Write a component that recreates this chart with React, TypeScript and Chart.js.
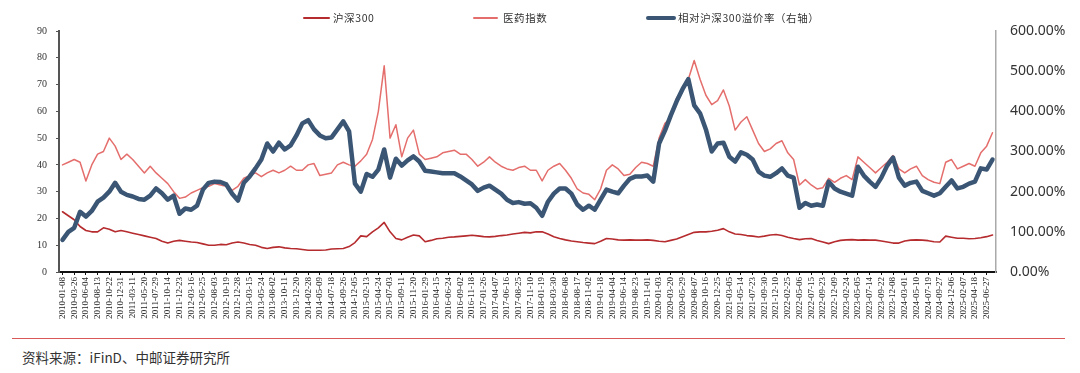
import React, { useEffect, useRef } from 'react';
import { Chart, registerables } from 'chart.js';

Chart.register(...registerables);

// Tick labels (every 10 trading weeks)
const tickLabels = [
  '2010-01-08', '2010-03-26', '2010-06-04', '2010-08-13', '2010-10-22', '2010-12-31',
  '2011-03-11', '2011-05-20', '2011-07-29', '2011-10-14', '2011-12-23',
  '2012-03-16', '2012-05-25', '2012-08-03', '2012-10-19', '2012-12-28',
  '2013-03-15', '2013-05-24', '2013-08-02', '2013-10-11', '2013-12-20',
  '2014-02-28', '2014-05-09', '2014-07-18', '2014-09-26', '2014-12-05',
  '2015-02-13', '2015-04-24', '2015-07-03', '2015-09-11', '2015-11-20',
  '2016-01-29', '2016-04-15', '2016-06-24', '2016-09-02', '2016-11-18',
  '2017-01-26', '2017-04-07', '2017-06-16', '2017-08-25', '2017-11-10',
  '2018-01-19', '2018-03-30', '2018-06-08', '2018-08-17', '2018-11-02',
  '2019-01-18', '2019-04-04', '2019-06-14', '2019-08-23', '2019-11-01',
  '2020-01-03', '2020-03-20', '2020-05-29', '2020-08-07', '2020-10-16', '2020-12-25',
  '2021-03-05', '2021-05-14', '2021-07-23', '2021-09-30', '2021-12-10',
  '2022-02-25', '2022-05-06', '2022-07-15', '2022-09-23', '2022-12-09',
  '2023-02-24', '2023-05-05', '2023-07-14', '2023-09-22', '2023-12-08',
  '2024-03-01', '2024-05-10', '2024-07-19', '2024-09-27', '2024-12-06',
  '2025-02-07', '2025-04-18', '2025-06-27',
];

// Series sampled every 5 trading weeks (left axis)
const hs300 = [
  22.5, 21, 19.5, 17, 15.5, 15, 15, 16.5, 16, 15,
  15.5, 15, 14.5, 14, 13.5, 13, 12.5, 11.5, 10.8, 11.5,
  11.8, 11.5, 11.2, 11, 10.5, 10, 10, 10.3, 10.2, 10.8,
  11.2, 10.8, 10.3, 10, 9.2, 8.8, 9.2, 9.4, 9, 8.8,
  8.7, 8.4, 8.1, 8.1, 8.1, 8.2, 8.6, 8.7, 8.8, 9.5,
  11, 13.5, 13.2, 15, 16.5, 18.5, 15, 12.5, 12, 13,
  13.8, 13.5, 11.3, 11.8, 12.4, 12.6, 13, 13.1, 13.3, 13.5,
  13.7, 13.5, 13.2, 13.1, 13.3, 13.6, 13.8, 14.2, 14.5, 14.8,
  14.6, 15, 15, 14.2, 13.2, 12.5, 12, 11.6, 11.3, 11,
  10.8, 10.6, 11.5, 12.5, 12.3, 12, 11.9, 12, 11.9, 11.9,
  12, 11.8, 11.5, 11.3, 11.8, 12.3, 13.2, 14, 14.8, 15,
  15, 15.2, 15.6, 16.2, 15, 14.2, 14, 13.6, 13.4, 13.1,
  13.4, 13.8, 14, 13.6, 13, 12.5, 12.1, 12.4, 12.5, 11.8,
  11.2, 10.6, 11.3, 11.8, 12, 12.1, 11.9, 12, 11.9, 11.9,
  11.6, 11.2, 10.8, 10.8, 11.6, 11.9, 12, 11.9, 11.7, 11.3,
  11.2, 13.4, 13, 12.6, 12.6, 12.4, 12.5, 12.8, 13.2, 13.8,
];

const pharma = [
  40, 41, 42, 41, 34, 40, 44, 45, 50, 47,
  42, 44, 42, 39.5, 37, 39.5, 37, 35, 33, 30,
  27.5, 28, 29.5, 30.5, 31.5, 32, 33, 32.5, 32, 30.5,
  32, 35, 36, 37, 35.6, 37, 38, 37, 38, 39.5,
  38, 38, 40, 40.5, 36, 36.5, 37, 40, 41, 40,
  39.5, 41.5, 44, 49.5, 60, 77, 50, 55, 43, 50,
  53, 44, 42, 42.5, 43, 44.5, 45, 45.5, 44, 44,
  42, 39.5, 41, 43, 41, 39.5, 38.5, 38, 39, 39.5,
  38, 38, 34, 38, 39.5, 40.5, 38, 35, 31, 29.5,
  29, 27, 31, 38, 40, 38.5, 36, 36.5, 39, 41,
  40.5, 39.5, 50, 55.5, 57.5, 65, 68, 72, 79, 72,
  66, 62.5, 64, 68, 62, 53, 56, 58, 53, 48,
  45, 46, 48, 49, 44.5, 42, 32.5, 34.5, 32.5, 31,
  31.5, 35, 33.5, 35, 36, 34.5, 43, 41, 39, 37,
  39, 41, 43.5, 38.5, 37, 38.5, 39.5, 36, 34.5, 33.5,
  33, 41, 42, 38.5, 39.5, 40.5, 39.5, 44.5, 47, 52,
];

// Right axis, percent
const premium = [
  80, 100, 110, 150, 138, 152, 175, 185, 200, 222,
  200, 192, 188, 182, 180, 190, 208, 196, 180, 190,
  145, 158, 155, 165, 205, 222, 225, 224, 218, 195,
  178, 222, 238, 258, 280, 320, 300, 322, 305, 315,
  340, 370, 378, 355, 340, 333, 335, 355, 375, 350,
  220, 200, 244, 237, 255, 305, 235, 282, 265, 278,
  288, 275, 252, 250, 248, 246, 246, 246, 238, 228,
  218, 202, 210, 215, 205, 195, 180, 172, 174, 170,
  171, 160, 140, 175, 195, 208, 208, 195, 168, 155,
  165, 155, 180, 205, 200, 196, 215, 232, 238, 238,
  240, 225, 320, 352, 390, 425, 455, 480, 415, 395,
  355, 300, 320, 322, 287, 275, 298, 292, 280, 250,
  240, 237, 246, 258, 240, 235, 160, 172, 165, 168,
  165, 225, 208, 200, 195, 190, 262, 240, 225, 212,
  235, 265, 285, 235, 215, 222, 225, 202, 196, 190,
  196, 212, 228, 208, 212, 220, 225, 258, 255, 280,
];

const WEEKS_PER_POINT = 5;
const WEEKS_PER_LABEL = 10;

const COLORS = {
  hs300: '#B52B2E',
  pharma: '#E46E6C',
  premium: '#3A5674',
};

const legendItems = [
  { text: '沪深300', color: COLORS.hs300, left: 303, width: 27, thick: 2, textLeft: 333 },
  { text: '医药指数', color: COLORS.pharma, left: 473, width: 25, thick: 2, textLeft: 503 },
  { text: '相对沪深300溢价率（右轴）', color: COLORS.premium, left: 646, width: 30, thick: 4, textLeft: 678 },
];

export default function App() {
  const ref = useRef<HTMLCanvasElement>(null);

  useEffect(() => {
    const toPts = (arr: number[]) => arr.map((y, i) => ({ x: i * WEEKS_PER_POINT, y }));
    const chart = new Chart(ref.current as HTMLCanvasElement, {
      type: 'line',
      data: {
        datasets: [
          { label: '沪深300', data: toPts(hs300), borderColor: COLORS.hs300, borderWidth: 1.6, yAxisID: 'y', order: 2 },
          { label: '医药指数', data: toPts(pharma), borderColor: COLORS.pharma, borderWidth: 1.5, yAxisID: 'y', order: 1 },
          { label: '相对沪深300溢价率（右轴）', data: toPts(premium), borderColor: COLORS.premium, borderWidth: 4.5, yAxisID: 'y1', order: 0 },
        ],
      },
      options: {
        responsive: false,
        animation: false,
        devicePixelRatio: 1,
        elements: {
          point: { radius: 0 },
          line: { tension: 0, borderJoinStyle: 'round', borderCapStyle: 'round' },
        },
        layout: { padding: { top: 31, bottom: 8, left: 0, right: 0 } },
        plugins: { legend: { display: false }, tooltip: { enabled: false } },
        scales: {
          x: {
            type: 'linear',
            min: -3,
            max: 798,
            afterBuildTicks: (s: any) => {
              s.ticks = tickLabels.map((_, i) => ({ value: i * WEEKS_PER_LABEL }));
            },
            afterFit: (s: any) => { s.height = 60; },
            ticks: {
              autoSkip: false,
              minRotation: 90,
              maxRotation: 90,
              padding: 2,
              color: '#222',
              font: { family: 'Liberation Serif', size: 9 },
              callback: (v: any) => tickLabels[Math.round(Number(v) / WEEKS_PER_LABEL)] ?? '',
            },
            grid: { drawOnChartArea: false, drawTicks: true, tickLength: 3, color: '#111' },
            border: { color: '#111', width: 2 },
          },
          y: {
            position: 'left',
            min: 0,
            max: 90,
            afterFit: (s: any) => { s.width = 59; },
            ticks: { stepSize: 10, padding: 9, color: '#333', font: { family: 'Liberation Serif', size: 10 } },
            grid: { drawOnChartArea: false, drawTicks: true, tickLength: 3, color: '#555' },
            border: { color: '#555', width: 2 },
          },
          y1: {
            position: 'right',
            min: 0,
            max: 600,
            afterFit: (s: any) => { s.width = 84; },
            ticks: {
              stepSize: 100,
              padding: 14,
              color: '#333',
              font: { family: 'Noto Sans', size: 14 },
              callback: (v: any) => `${Number(v).toFixed(2)}%`,
            },
            grid: { drawOnChartArea: false, drawTicks: false },
            border: { color: '#aaa', width: 1.5 },
          },
        },
      },
    } as any);
    return () => chart.destroy();
  }, []);

  return (
    <div style={{ position: 'fixed', left: 0, top: 0, width: 1080, height: 373, background: '#fff', overflow: 'hidden' }}>
      <canvas ref={ref} width={1080} height={340} style={{ position: 'absolute', left: 0, top: 0, width: 1080, height: 340 }} />
      {legendItems.map((it) => (
        <React.Fragment key={it.text}>
          <div style={{ position: 'absolute', left: it.left, top: 18 - it.thick / 2, width: it.width, height: it.thick, background: it.color, borderRadius: it.thick / 2 }} />
          <div style={{ position: 'absolute', left: it.textLeft, top: 10, lineHeight: '16px', fontSize: 10.5, letterSpacing: '0.6px', color: '#333', fontFamily: '"Noto Sans CJK SC", sans-serif', whiteSpace: 'nowrap' }}>{it.text}</div>
        </React.Fragment>
      ))}
      <div style={{ position: 'absolute', left: 12, top: 338, width: 1053, height: 1, background: '#D9595A' }} />
      <div style={{ position: 'absolute', left: 22, top: 347, lineHeight: '20px', fontSize: 13.5, color: '#333', fontFamily: '"Noto Sans CJK SC", sans-serif', whiteSpace: 'nowrap' }}>资料来源：iFinD、中邮证券研究所</div>
    </div>
  );
}
